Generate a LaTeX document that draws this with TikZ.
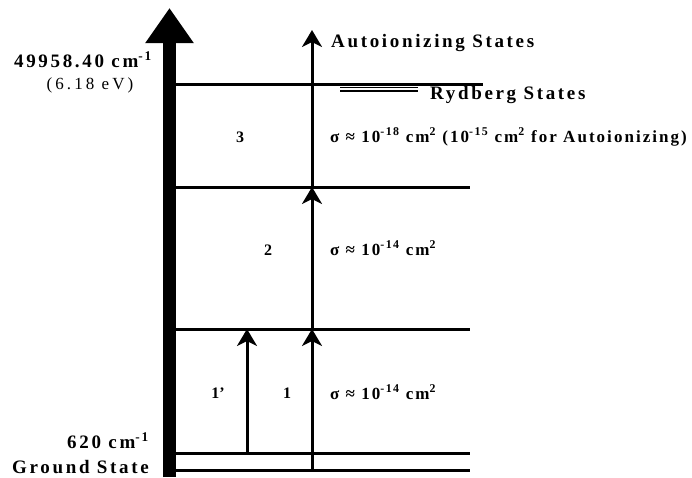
\documentclass[tikz,border=0pt]{standalone}
\usepackage{fontspec}
\setmainfont{Liberation Serif}
\newfontfamily\spaced[LetterSpace=14]{Liberation Serif}
\newfontfamily\narrow[LetterSpace=12]{Liberation Serif}
\newfontfamily\wide[LetterSpace=18]{Liberation Serif}
\usetikzlibrary{positioning, arrows.meta, calc}

\begin{document}
\begin{tikzpicture}[
  x=1pt, y=-1pt,
  level/.style={line width=3pt},
  trans/.style={line width=3pt, -{Stealth[length=17pt, width=20pt, inset=5pt]}},
  axis/.style={line width=13pt, -{Triangle[length=35pt, width=46pt]}},
  big/.style={font=\spaced\bfseries\fontsize{19}{22}\selectfont, inner sep=0pt},
  cross/.style={font=\narrow\bfseries\fontsize{17}{20}\selectfont, inner sep=0pt, anchor=base west},
  step num/.style={font=\bfseries\fontsize{16}{18}\selectfont, inner sep=0pt}
]
  \useasboundingbox (0,0) rectangle (692,477);

  % energy axis
  \coordinate (axb) at (169.5,477);
  \coordinate (axt) at (169.5,8);
  \draw[axis] (axb) -- (axt);

  % levels
  \coordinate (gs-l) at (176,470);  \coordinate (gs-r) at (470,470);
  \coordinate (ex-l) at (176,453);  \coordinate (ex-r) at (470,453);
  \coordinate (lvA-l) at (176,329); \coordinate (lvA-r) at (470,329);
  \coordinate (lvB-l) at (176,187); \coordinate (lvB-r) at (470,187);
  \coordinate (lvC-l) at (176,84);  \coordinate (lvC-r) at (483,84);
  \foreach \lv in {gs, ex, lvA, lvB, lvC}
    \draw[level] (\lv-l) -- (\lv-r);

  % Rydberg states
  \coordinate (ryd-a) at (340,89);
  \coordinate (ryd-b) at (418,89);
  \draw[double, double distance=2.4pt, line width=1.3pt] (ryd-a) -- (ryd-b);

  % transitions
  \coordinate (top) at (312,30);
  \draw[trans] (gs-l -| top) -- (lvA-l -| top);
  \draw[trans] (lvA-l -| top) -- (lvB-l -| top);
  \draw[trans] (lvB-l -| top) -- (top);
  \coordinate (pr) at (247,0);
  \draw[trans] (ex-l -| pr) -- (lvA-l -| pr);

  % labels
  \node[big, anchor=base east] (ion) at (152,67) {49958.40 cm\textsuperscript{-1}};
  \node[font=\wide\fontsize{17}{20}\selectfont, inner sep=0pt] (ev) at (90,85) {(6.18 eV)};
  \node[big, anchor=base east] (n620) at (149,448) {620 cm\textsuperscript{-1}};
  \node[big, anchor=base east] (gsl) at (149,473) {Ground State};
  \node[big, anchor=base west] (auto) at (331,47) {Autoionizing States};
  \node[big, anchor=base west] (ryd) at (430,99) {Rydberg States};

  \node[cross] (s3) at (330,142) {σ ≈ 10\textsuperscript{-18} cm\textsuperscript{2} (10\textsuperscript{-15} cm\textsuperscript{2} for Autoionizing)};
  \node[cross] (s2) at (330,255) {σ ≈ 10\textsuperscript{-14} cm\textsuperscript{2}};
  \node[cross] (s1) at (330,399) {σ ≈ 10\textsuperscript{-14} cm\textsuperscript{2}};

  \node[step num] (n3) at (240,137) {3};
  \node[step num] (n2) at (268,250) {2};
  \node[step num] (n1p) at (218,393) {1’};
  \node[step num] (n1) at (287,393) {1};
\end{tikzpicture}
\end{document}
